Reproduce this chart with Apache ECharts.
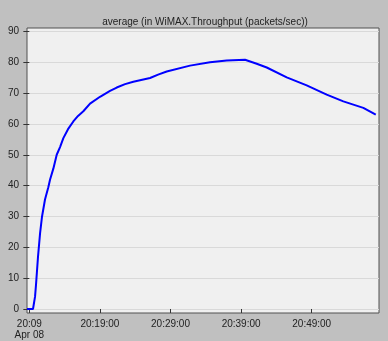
<!DOCTYPE html>
<html>
<head>
<meta charset="utf-8">
<script src="https://cdn.jsdelivr.net/npm/echarts@6/dist/echarts.min.js"></script>
<style>
html,body{margin:0;padding:0;background:#c0c0c0;}
#c{width:388px;height:341px;}
</style>
</head>
<body>
<div id="c"></div>
<script>
// minutes after 20:09:00 (Apr 08)
const times = [-0.33, 0.52, 0.81, 0.95, 1.23, 1.52, 1.80, 2.22, 2.69, 2.93, 3.40, 3.88, 4.35, 4.82, 5.48, 6.23, 6.90, 7.65, 8.60, 10.01, 11.43, 12.38, 13.56, 14.73, 17.10, 18.24, 19.46, 22.76, 25.59, 27.96, 30.55, 32.21, 33.63, 36.46, 39.29, 42.12, 44.48, 47.31, 49.07];
const throughput = [0, 0, 4, 8, 17, 24.5, 30, 35.5, 39.5, 41.9, 45.5, 50, 52.5, 55.4, 58.3, 60.8, 62.6, 64.1, 66.6, 68.8, 70.7, 71.8, 72.9, 73.7, 74.9, 76.0, 77.0, 78.9, 80.0, 80.6, 80.8, 79.5, 78.3, 75.1, 72.5, 69.5, 67.3, 65.2, 63.0];
const xTickValues = [0, 10, 20, 30, 40];
const xTickLabels = ['20:09\nApr 08', '20:19:00', '20:29:00', '20:39:00', '20:49:00'];
const yTickValues = [0, 10, 20, 30, 40, 50, 60, 70, 80, 90];
const titleText = 'average (in WiMAX.Throughput (packets/sec))';

const chart = echarts.init(document.getElementById('c'));
const font = 'Liberation Sans, Arial, sans-serif';
chart.setOption({
  backgroundColor: '#c0c0c0',
  animation: false,
  title: {
    text: titleText, left: 200, top: 12, textAlign: 'center',
    textStyle: {fontSize: 10, fontWeight: 'normal', color: '#222', fontFamily: font}
  },
  grid: {left: 27, right: 9, top: 28, bottom: 28, show: true, backgroundColor: '#f0f0f0', borderColor: '#505050', borderWidth: 1},
  xAxis: {
    type: 'value', min: -0.33, max: 49.53,
    axisLine: {show: false},
    axisTick: {show: true, length: 4, customValues: xTickValues, lineStyle: {color: '#333'}},
    axisLabel: {customValues: xTickValues, margin: 6, fontSize: 10, color: '#222', fontFamily: font, lineHeight: 11,
      formatter: v => xTickLabels[xTickValues.indexOf(v)] || ''},
    splitLine: {show: false}
  },
  yAxis: {
    type: 'value', min: -1.3, max: 91.1,
    axisLine: {show: false},
    axisTick: {show: true, length: 6, customValues: yTickValues, lineStyle: {color: '#333'}},
    axisLabel: {customValues: yTickValues, margin: 8, fontSize: 10, color: '#222', fontFamily: font},
    splitLine: {show: true, lineStyle: {color: '#d9d9d9', width: 1}}
  },
  series: [{
    type: 'line', data: times.map((t, i) => [t, throughput[i]]),
    showSymbol: false, smooth: false, clip: false,
    lineStyle: {color: '#0000ff', width: 2}
  }]
});
</script>
</body>
</html>
